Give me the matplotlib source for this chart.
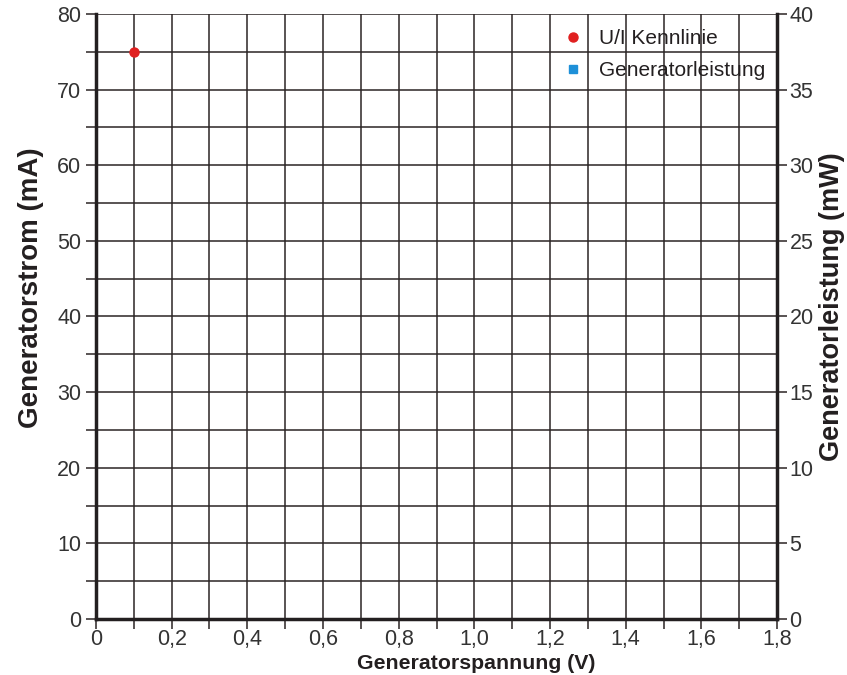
import matplotlib
matplotlib.use("Agg")
import matplotlib.pyplot as plt
from matplotlib.ticker import MultipleLocator, FuncFormatter

# Data
spannung = [0.1]        # V
strom = [75]            # mA
leistung_u = []         # V
leistung_p = []         # mW

plt.rcParams["font.family"] = ["Liberation Sans", "DejaVu Sans"]

text_c = "#231f20"
grid_c = "#2b2525"

fig = plt.figure(figsize=(8.47, 6.75), dpi=100)
ax = fig.add_axes([0.1133, 0.083, 0.8041, 0.8963])
ax2 = ax.twinx()

ax.set_xlim(0, 1.8)
ax.set_ylim(0, 80)
ax2.set_ylim(0, 40)

ax.xaxis.set_major_locator(MultipleLocator(0.2))
ax.xaxis.set_minor_locator(MultipleLocator(0.1))
ax.yaxis.set_major_locator(MultipleLocator(10))
ax.yaxis.set_minor_locator(MultipleLocator(5))
ax2.yaxis.set_major_locator(MultipleLocator(5))


def comma(v, pos):
    if abs(v) < 1e-9:
        return "0"
    return f"{v:.1f}".replace(".", ",")


ax.xaxis.set_major_formatter(FuncFormatter(comma))

ax.grid(True, which="both", color=grid_c, lw=1.1)
ax.set_axisbelow(True)

for side in ["left", "bottom"]:
    ax.spines[side].set_linewidth(2.5)
    ax.spines[side].set_color(text_c)
ax.spines["top"].set_visible(False)
ax.spines["right"].set_visible(False)
ax2.spines["top"].set_visible(False)
ax2.spines["left"].set_visible(False)
ax2.spines["bottom"].set_visible(False)
ax2.spines["right"].set_linewidth(2.5)
ax2.spines["right"].set_color(text_c)

ax.tick_params(axis="both", which="both", direction="out", length=7, width=1.1,
               color=grid_c, labelsize=15.5, labelcolor="#333333")
ax.tick_params(axis="x", which="both", pad=0)
ax2.tick_params(axis="y", direction="out", length=7, width=1.1, color=grid_c,
                labelsize=15.5, labelcolor="#333333", pad=2)

ax.set_xlabel("Generatorspannung (V)", fontsize=15.3, fontweight="bold", color=text_c)
ax.set_ylabel("Generatorstrom (mA)", fontsize=20, fontweight="bold", color=text_c)
ax2.set_ylabel("Generatorleistung (mW)", fontsize=19.5, fontweight="bold", color=text_c)
ax.xaxis.set_label_coords(0.558, -0.0744)
ax.xaxis.label.set_va("center")
ax.yaxis.set_label_coords(-0.095, 0.547)
ax.yaxis.label.set_va("center")
ax2.yaxis.set_label_coords(1.0808, 0.517)
ax2.yaxis.label.set_va("center")

l1, = ax.plot(spannung, strom, "o", color="#e02020", ms=6.5, clip_on=False, zorder=5)
l2, = ax2.plot(leistung_u, leistung_p, "s", color="#1e90d8", ms=5.5)

fig.legend([l1, l2], ["U/I Kennlinie", "Generatorleistung"], loc="upper left",
           bbox_to_anchor=(0.6642, 0.957), fontsize=15, frameon=False,
           handletextpad=0.75, labelspacing=0.62, borderpad=0, borderaxespad=0,
           handlelength=1.0, labelcolor=text_c)

fig.savefig("out.png", dpi=100)
